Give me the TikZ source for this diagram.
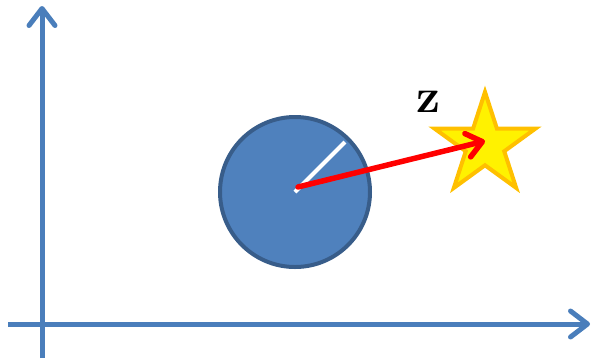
\documentclass[tikz,border=0pt]{standalone}
\usetikzlibrary{arrows.meta,shapes.geometric}
\definecolor{axisblue}{HTML}{4A7EBB}
\definecolor{ballfill}{HTML}{4F81BD}
\definecolor{balledge}{HTML}{385D8A}
\definecolor{staredge}{HTML}{FFC000}
\begin{document}
\begin{tikzpicture}[x=1pt,y=-1pt,
  axis/.style={draw=axisblue,line width=5pt,-{Straight Barb[length=17pt,width=26pt,line cap=round,line join=round]}},
  ball/.style={circle,draw=balledge,fill=ballfill,line width=4pt,minimum size=150pt,inner sep=0pt},
  goal/.style={star,star points=5,star point ratio=2.618,draw=staredge,fill=yellow,line width=4pt,minimum size=106pt,inner sep=0pt},
  radius line/.style={draw=white,line width=4pt},
  vec/.style={draw=red,line width=5.5pt,line cap=round,-{Straight Barb[length=15pt,width=24pt,line cap=round,line join=round]}}]
\useasboundingbox (0,0) rectangle (594,360);
\coordinate (ybot) at (42,358);
\coordinate (ytop) at (42,6);
\coordinate (xleft) at (8,324);
\coordinate (xright) at (590,324);
\draw[axis] (ybot) -- (ytop);
\draw[axis] (xleft) -- (xright);
\node[ball] (ball) at (295,192) {};
\coordinate (rim) at (345,142);
\draw[radius line] (ball.center) -- (rim);
\node[goal] (goal) at (485,145) {};
\coordinate (start) at (298,187);
\coordinate (tip) at (485,141);
\draw[vec] (start) -- (tip);
\node[inner sep=0pt,anchor=base] (zlabel) at (428,112) {\fontsize{48}{48}\selectfont\bfseries z};
\end{tikzpicture}
\end{document}
